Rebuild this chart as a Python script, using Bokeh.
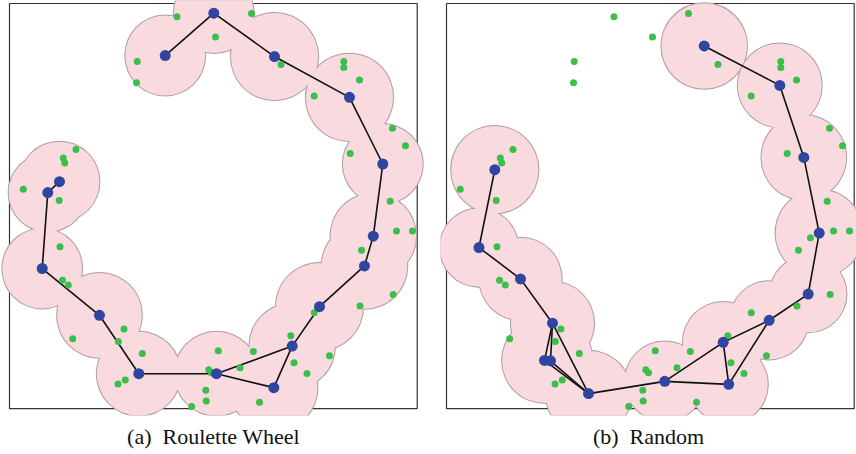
from bokeh.plotting import figure
from bokeh.models import Range1d
from bokeh.layouts import row
from bokeh.embed import file_html
from bokeh.resources import INLINE

# ---- data (unit square 0..100) ----
captions = ["(a)\u2002Roulette Wheel", "(b)\u2002Random"]

nodes_a_x = [50.11, 38.19, 65.00, 83.39, 91.56, 12.26, 9.39, 89.23, 87.07, 76.04, 69.34, 64.83, 50.77, 31.71, 22.07, 8.02]
nodes_a_y = [97.62, 87.15, 86.90, 76.83, 60.37, 56.02, 53.32, 42.56, 35.21, 25.14, 15.41, 5.16, 8.60, 8.60, 23.02, 34.57]
radius_a = [9.8, 9.8, 10.7, 10.7, 9.8, 9.8, 9.6, 10.5, 10.5, 10.7, 10.5, 10.7, 10.3, 10.3, 10.4, 9.8]
edges_a = [(1, 0), (0, 2), (2, 3), (3, 4), (4, 7), (7, 8), (8, 9), (9, 10), (10, 11), (10, 12),
           (11, 12), (12, 13), (13, 14), (14, 15), (15, 6), (6, 5)]

nodes_b_x = [63.21, 81.75, 87.64, 11.85, 91.42, 7.97, 88.72, 18.15, 79.15, 26.00, 67.87, 24.04, 25.51, 53.54, 69.22, 34.83]
nodes_b_y = [89.51, 79.78, 61.99, 58.97, 43.32, 39.75, 28.26, 32.01, 21.79, 21.06, 16.34, 11.87, 11.79, 6.71, 5.97, 3.69]
radius_b = [10.5, 10.3, 10.4, 10.7, 10.7, 9.6, 9.4, 10.1, 9.6, 10.2, 9.9, 10.4, 10.4, 9.8, 9.6, 10.5]
edges_b = [(0, 1), (1, 2), (2, 4), (4, 6), (6, 8), (8, 10), (8, 14), (10, 14), (10, 13), (13, 14),
           (13, 15), (15, 9), (15, 11), (15, 12), (9, 11), (9, 12), (9, 7), (7, 5), (5, 3)]

green_x = [41.08, 59.36, 50.53, 31.32, 31.15, 66.59, 82.00, 82.00, 85.85, 74.74, 93.94, 97.13, 83.57, 93.38,
           16.31, 13.20, 13.56, 3.38, 12.19, 94.92, 98.85, 86.34, 89.28, 94.11, 85.97, 74.76, 69.00, 78.49,
           69.78, 72.97, 61.32, 59.80, 56.54, 51.21, 48.88, 49.55, 48.15, 48.25, 44.69, 32.57, 28.40, 26.61,
           28.08, 26.69, 15.50, 13.00, 14.42, 12.39]
green_y = [96.73, 97.54, 91.72, 85.68, 80.42, 84.94, 85.68, 84.20, 81.08, 77.15, 69.21, 64.86, 62.97, 51.18,
           63.96, 61.84, 60.61, 54.13, 51.35, 43.81, 43.81, 39.07, 42.14, 28.18, 25.31, 23.66, 17.94, 13.02,
           11.30, 8.67, 1.55, 14.08, 10.07, 14.25, 9.58, 8.85, 4.50, 1.89, 0.49, 13.59, 7.05, 6.07,
           19.66, 16.54, 17.20, 31.70, 30.47, 39.93]

PINK = "#f9dadf"
EDGE = "#b09ca0"
BLUE = "#2e46a0"
GREEN = "#3cbe4b"
PX = 4.077  # pixels per data unit (x)
PY = 4.07   # pixels per data unit (y)


def panel(nx, ny, nr, edges, caption, width, x_start, x_end):
    # frame: top of image down to y=417 px; caption lives in the border below
    y_start, y_end = -7 / PY, 410 / PY
    p = figure(width=width, height=454, x_range=Range1d(x_start, x_end), y_range=Range1d(y_start, y_end),
               output_backend="svg", toolbar_location=None, x_axis_location=None, y_axis_location=None,
               min_border_left=0, min_border_right=0, min_border_top=0, min_border_bottom=37,
               outline_line_color=None, background_fill_color="white", border_fill_color="white",
               title=caption, title_location="below")
    p.title.align = "center"
    p.title.text_font = "Liberation Serif"
    p.title.text_font_style = "normal"
    p.title.text_font_size = "22px"
    p.title.text_color = "#111111"
    p.title.standoff = 12
    p.grid.visible = False
    p.quad(left=[0], right=[100], bottom=[0], top=[100], fill_color=None,
           line_color="#333333", line_width=1.2)
    p.circle(nx, ny, radius=[r + 1.0 / PX for r in nr], fill_color=EDGE, line_color=None)
    p.circle(nx, ny, radius=nr, fill_color=PINK, line_color=None)
    p.segment(x0=[nx[i] for i, j in edges], y0=[ny[i] for i, j in edges],
              x1=[nx[j] for i, j in edges], y1=[ny[j] for i, j in edges],
              line_color="#111111", line_width=1.6)
    p.scatter(green_x, green_y, size=7, fill_color=GREEN, line_color=None)
    p.scatter(nx, ny, size=11, fill_color=BLUE, line_color=None)
    return p


# figure widths chosen so each caption is centred under its box
pa = panel(nodes_a_x, nodes_a_y, radius_a, edges_a, captions[0], 426, -9 / PX, 417 / PX)
pb = panel(nodes_b_x, nodes_b_y, radius_b, edges_b, captions[1], 416, -6 / PX, 410 / PX)

layout = row(pa, pb, spacing=14)
open("out.html", "w").write(file_html(layout, INLINE))
